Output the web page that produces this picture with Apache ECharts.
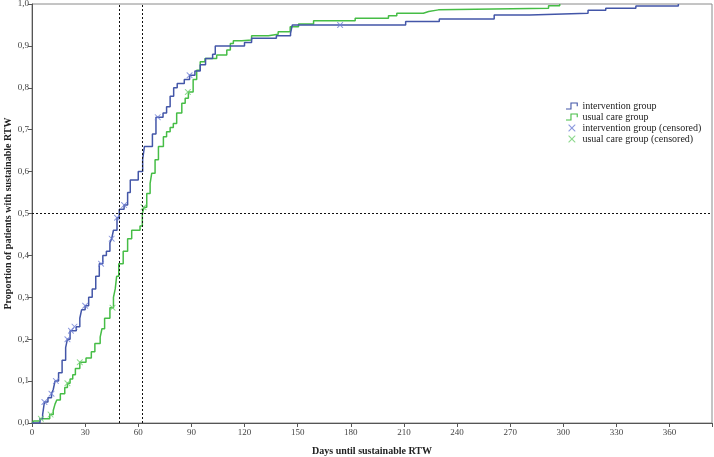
<!DOCTYPE html>
<html>
<head>
<meta charset="utf-8">
<script src="https://cdn.jsdelivr.net/npm/echarts@6/dist/echarts.min.js"></script>
<style>
  html, body { margin: 0; padding: 0; background: #fff; }
  #chart { width: 714px; height: 457px; }
</style>
</head>
<body>
<div id="chart"></div>
<script>
// Kaplan-Meier style step curves (day, cumulative proportion after event)
const interventionDays = [0, 4.5, 6, 7, 9, 11, 12, 13, 15, 17, 19, 20, 21.5, 25, 27, 28, 30, 32, 34, 36, 38, 40, 42, 44, 45, 46, 48, 49.3, 52, 54, 55.5, 60, 62.5, 63.5, 68, 70, 74, 76, 78, 80, 82, 86, 89, 92, 95, 98, 102, 103.5, 120, 124, 138, 146, 147, 211, 230, 261, 281, 314, 324, 341, 365];
const interventionProp = [0, 0.01, 0.02, 0.05, 0.06, 0.07, 0.08, 0.1, 0.12, 0.15, 0.18, 0.2, 0.22, 0.23, 0.25, 0.27, 0.28, 0.3, 0.32, 0.35, 0.38, 0.4, 0.41, 0.43, 0.44, 0.46, 0.49, 0.51, 0.52, 0.55, 0.58, 0.6, 0.63, 0.66, 0.69, 0.73, 0.74, 0.755, 0.78, 0.8, 0.81, 0.82, 0.83, 0.84, 0.855, 0.87, 0.88, 0.9, 0.908, 0.918, 0.924, 0.93, 0.95, 0.958, 0.964, 0.974, 0.978, 0.985, 0.99, 0.995, 1.0];

const usualDays = [0, 1, 4.5, 10, 12, 13, 14, 16, 18.5, 20, 21.5, 23, 24.5, 27, 30.5, 33.5, 35.5, 38.5, 39.5, 41, 44, 46, 47, 47.8, 49, 51.5, 54, 56.3, 61, 62.3, 63.3, 64.8, 66.7, 67.6, 69.5, 71.4, 74.2, 76, 78, 79.8, 81.7, 84.6, 86.5, 88.3, 91, 93, 95, 97.7, 104.3, 110, 112, 113.7, 118.5, 124, 133.5, 139, 145.8, 150.5, 159, 182.5, 201.3, 206, 221, 224, 229.5, 291.7, 298];
const usualProp = [0, 0.005, 0.01, 0.02, 0.03, 0.045, 0.055, 0.07, 0.085, 0.095, 0.105, 0.115, 0.13, 0.145, 0.155, 0.17, 0.19, 0.205, 0.225, 0.25, 0.275, 0.3, 0.32, 0.35, 0.38, 0.41, 0.44, 0.46, 0.47, 0.5, 0.515, 0.548, 0.572, 0.596, 0.628, 0.66, 0.683, 0.695, 0.705, 0.715, 0.74, 0.763, 0.775, 0.79, 0.82, 0.842, 0.862, 0.87, 0.878, 0.89, 0.906, 0.912, 0.914, 0.924, 0.928, 0.934, 0.946, 0.952, 0.96, 0.966, 0.972, 0.978, 0.982, 0.986, 0.99, 0.996, 1.0];

// censored observations
const interventionCensDays = [7, 11, 13.5, 20, 22, 24, 30, 39, 45, 48, 52, 71, 89, 174];
const interventionCensProp = [0.05, 0.07, 0.1, 0.2, 0.22, 0.23, 0.28, 0.38, 0.44, 0.49, 0.52, 0.73, 0.83, 0.95];
const usualCensDays = [5, 10.5, 20, 27, 45.5, 63, 88];
const usualCensProp = [0.01, 0.02, 0.095, 0.145, 0.275, 0.515, 0.79];

// medians / reference lines
const medianDays = [49.3, 62.3];
const medianProp = 0.5;

const xTicks = [0, 30, 60, 90, 120, 150, 180, 210, 240, 270, 300, 330, 360];

const font = 'Liberation Serif';
const blue = '#4356a8';
const green = '#46bd46';
const crossIcon = 'path://M0,0 L1.2,0 L10,8.8 L10,10 L8.8,10 L0,1.2 Z M8.8,0 L10,0 L10,1.2 L1.2,10 L0,10 L0,8.8 Z';
const stepIcon = 'path://M0,8 L6,8 L6,0 L16,0 L16,5 L14.5,5 L14.5,1.5 L7.5,1.5 L7.5,9.5 L0,9.5 Z';

const zip = (a, b) => a.map((v, i) => [v, b[i]]);

const myChart = echarts.init(document.getElementById('chart'));
myChart.setOption({
  animation: false,
  textStyle: { fontFamily: font },
  grid: {
    left: 32, right: 2, top: 4, bottom: 34,
    outerBoundsMode: 'none', containLabel: false,
    show: true, borderColor: '#8a8a8a', borderWidth: 1
  },
  legend: {
    orient: 'vertical',
    left: 566, top: 101, padding: 0,
    itemWidth: 15, itemHeight: 7, itemGap: 1,
    textStyle: { fontFamily: font, fontSize: 10, color: '#222', padding: [0, 0, 0, -2] },
    data: [
      { name: 'intervention group', icon: stepIcon },
      { name: 'usual care group', icon: stepIcon },
      { name: 'intervention group (censored)', icon: crossIcon },
      { name: 'usual care group (censored)', icon: crossIcon }
    ]
  },
  xAxis: {
    type: 'value', min: 0, max: 384, interval: 30,
    name: 'Days until sustainable RTW', nameLocation: 'middle', nameGap: 23,
    nameMoveOverlap: false,
    nameTextStyle: { fontFamily: font, fontWeight: 'bold', fontSize: 10, color: '#222' },
    axisLine: { lineStyle: { color: '#555', width: 1 } },
    axisTick: { show: true, inside: false, length: 4, lineStyle: { color: '#555' } },
    axisLabel: {
      fontFamily: font, fontSize: 9, color: '#444', margin: 5,
      formatter: v => (xTicks.indexOf(v) >= 0 ? String(v) : '')
    },
    splitLine: { show: false }
  },
  yAxis: {
    type: 'value', min: 0, max: 1, interval: 0.1,
    name: 'Proportion of patients with sustainable RTW', nameLocation: 'middle', nameGap: 19,
    nameMoveOverlap: false,
    nameTextStyle: { fontFamily: font, fontWeight: 'bold', fontSize: 10, color: '#222' },
    axisLine: { show: true, lineStyle: { color: '#555', width: 1 } },
    axisTick: { show: true, inside: false, length: 4, lineStyle: { color: '#555' } },
    axisLabel: {
      fontFamily: font, fontSize: 9, color: '#444', margin: 3,
      formatter: v => v.toFixed(1).replace('.', ',')
    },
    splitLine: { show: false }
  },
  series: [
    {
      name: 'intervention group', type: 'line', step: 'end',
      data: zip(interventionDays, interventionProp),
      showSymbol: false, itemStyle: { color: blue },
      lineStyle: { color: blue, width: 1.5 }, z: 3,
      markLine: {
        silent: true, symbol: 'none', label: { show: false },
        lineStyle: { color: '#111', type: [2, 2], width: 1 },
        data: [
          { xAxis: medianDays[0] },
          { xAxis: medianDays[1] },
          { yAxis: medianProp }
        ]
      }
    },
    {
      name: 'usual care group', type: 'line', step: 'end',
      data: zip(usualDays, usualProp),
      showSymbol: false, itemStyle: { color: green },
      lineStyle: { color: green, width: 1.5 }, z: 2
    },
    {
      name: 'intervention group (censored)', type: 'scatter',
      data: zip(interventionCensDays, interventionCensProp),
      symbol: crossIcon, symbolSize: 6,
      itemStyle: { color: '#6f7fd6' }, z: 4
    },
    {
      name: 'usual care group (censored)', type: 'scatter',
      data: zip(usualCensDays, usualCensProp),
      symbol: crossIcon, symbolSize: 6,
      itemStyle: { color: '#72d072' }, z: 4
    }
  ]
});
</script>
</body>
</html>
